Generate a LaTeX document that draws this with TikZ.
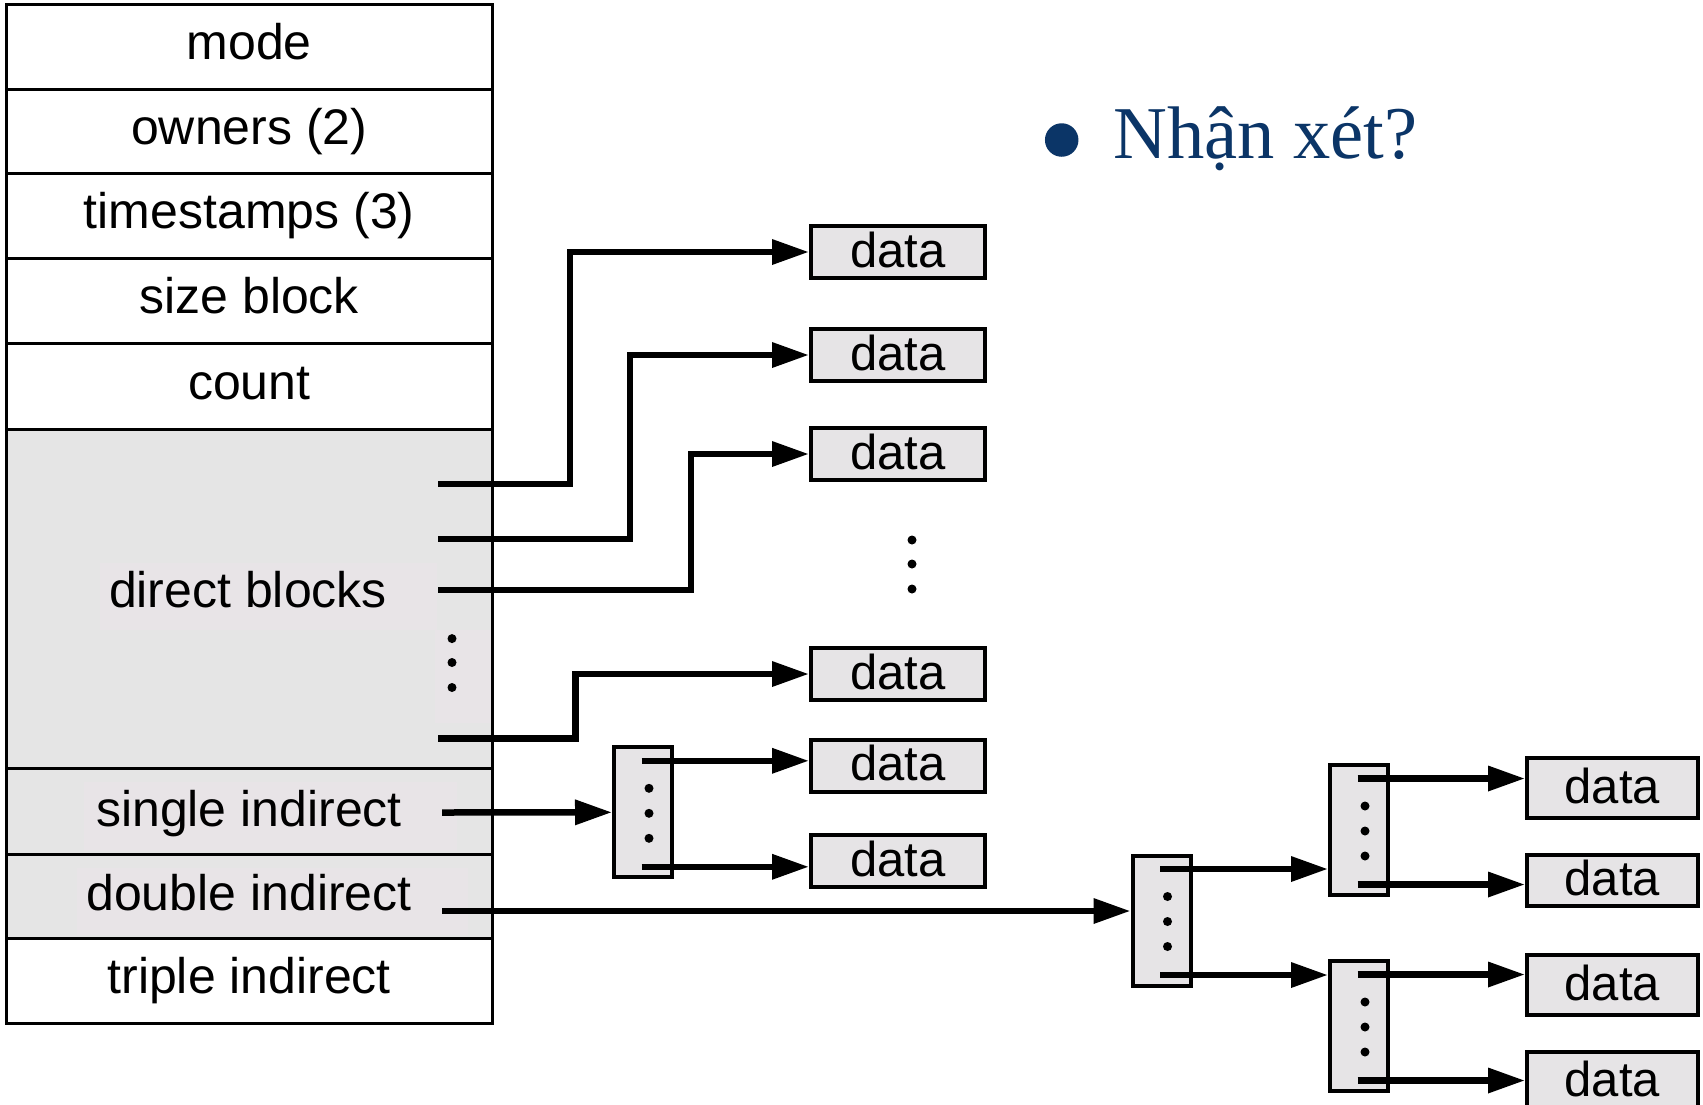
\documentclass[tikz,border=0pt]{standalone}
\usepackage{fontspec}
\newfontfamily\lsans{Liberation Sans}
\newfontfamily\lserif{Liberation Serif}
\usetikzlibrary{arrows.meta,calc}
\definecolor{shade}{HTML}{E5E5E5}
\definecolor{txtshade}{HTML}{E8E4E7}
\definecolor{boxfill}{HTML}{E6E4E6}
\definecolor{navy}{HTML}{0B3567}
\begin{document}
\begin{tikzpicture}[x=1pt,y=-1pt,
  row/.style={draw, line width=3pt, minimum width=485.5pt, inner sep=0pt, outer sep=0pt},
  lbl/.style={font=\lsans\fontsize{50}{58}\selectfont, text height=36pt, text depth=10pt},
  databox/.style={draw, line width=4pt, fill=boxfill, minimum width=174pt, minimum height=52pt,
    inner sep=0pt, font=\lsans\fontsize{49}{58}\selectfont, text height=36pt, text depth=6pt},
  rdatabox/.style={databox, minimum width=170.6pt},
  idx/.style={draw, line width=4pt, fill=boxfill, minimum width=58pt, minimum height=130pt, inner sep=0pt},
  ptr/.style={line width=6.5pt, -{Triangle[length=37pt,width=24pt]}},
  dot/.style={fill=black}
]
\useasboundingbox (0,0) rectangle (1703,1104);
\fill[white] (0,0) rectangle (1703,1104);
\clip (0,0) rectangle (1703,1104);

% inode table
\node[row, minimum height=85pt] (mode) at (249.25,46.5) {};
\node[row, minimum height=84pt] (owners) at (249.25,131) {};
\node[row, minimum height=85pt] (times) at (249.25,215.5) {};
\node[row, minimum height=85pt] (size) at (249.25,300.5) {};
\node[row, minimum height=86pt] (count) at (249.25,386) {};
\node[row, fill=shade, minimum height=339pt] (direct) at (249.25,598.5) {};
\node[row, fill=shade, minimum height=86pt] (single) at (249.25,811) {};
\node[row, fill=shade, minimum height=84pt] (double) at (249.25,896) {};
\node[row, minimum height=85pt] (triple) at (249.25,980.5) {};

% faint label backgrounds
\fill[txtshade] (100,563) rectangle (437,630);
\fill[txtshade] (435,630) rectangle (490.5,723);
\fill[txtshade] (84,782) rectangle (457,851);
\fill[txtshade] (77,868) rectangle (468,935);

\node[lbl] (tmode) at (mode) {mode};
\node[lbl] (towners) at (owners) {owners (2)};
\node[lbl] (ttimes) at (times) {timestamps (3)};
\node[lbl] (tsize) at (size) {size block};
\node[lbl] (tcount) at (count) {count};
\node[lbl] (tdirect) at (248,594) {direct blocks};
\node[lbl] (tsingle) at (249,813) {single indirect};
\node[lbl] (tdouble) at (249,897) {double indirect};
\node[lbl] (ttriple) at (triple) {triple indirect};

\fill[dot] (452,638.6) circle (4.5pt) (452,662.5) circle (4.5pt) (452,687.5) circle (4.5pt);

% data blocks (direct)
\node[databox] (d1) at (898,252) {data};
\node[databox] (d2) at (898,355) {data};
\node[databox] (d3) at (898,454) {data};
\node[databox] (d4) at (898,674) {data};
\node[databox] (d5) at (898,765.5) {data};
\node[databox] (d6) at (898,861) {data};
\fill[dot] (912,540) circle (4.5pt) (912,564) circle (4.5pt) (912,589) circle (4.5pt);

% index blocks
\node[idx] (b1) at (643,812.3) {};
\node[idx] (b2) at (1161.5,920.5) {};
\node[idx] (bA) at (1359,830) {};
\node[idx] (bB) at (1359,1026) {};
\foreach \b in {b1,b2,bA,bB}{
  \fill[dot] ($(\b.north)+(6,43)$) circle (4.5pt) ($(\b.north)+(6,68)$) circle (4.5pt) ($(\b.north)+(6,93)$) circle (4.5pt);
  \coordinate (\b-top) at ($(\b.north)+(-1.5,15.5)$);
  \coordinate (\b-bot) at ($(\b.south)+(-1.5,-12.5)$);
}

% right data blocks
\node[rdatabox, minimum height=60pt] (dA1) at (1612.3,788) {data};
\node[rdatabox, minimum height=51pt] (dA2) at (1612.3,880.5) {data};
\node[rdatabox, minimum height=60pt] (dB1) at (1612.3,985) {data};
\node[rdatabox, minimum height=58pt] (dB2) at (1612.3,1081) {data};

% pointer start points
\coordinate (p1) at (438,484);
\coordinate (p2) at (438,539);
\coordinate (p3) at (438,590);
\coordinate (p4) at (438,738.5);
\coordinate (si) at (442,812.5);
\coordinate (di) at (442,911);

% connectors
\draw[ptr] (p1) -- ++(132,0) |- (d1.west);
\draw[ptr] (p2) -- ++(192,0) |- (d2.west);
\draw[ptr] (p3) -- ++(253,0) |- (d3.west);
\draw[ptr] (p4) -- ++(137.6,0) |- (d4.west);
\draw[ptr] (si) -- (b1.west);
\draw[ptr] (b1-top) -- (b1-top -| d5.west);
\draw[ptr] (b1-bot) -- (b1-bot -| d6.west);
\draw[ptr] (di) -- (di -| b2.west);
\draw[ptr] (b2-top) -- (b2-top -| bA.west);
\draw[ptr] (b2-bot) -- (b2-bot -| bB.west);
\draw[ptr] (bA-top) -- (bA-top -| dA1.west);
\draw[ptr] (bA-bot) -- (bA-bot -| dA2.west);
\draw[ptr] (bB-top) -- (bB-top -| dB1.west);
\draw[ptr] (bB-bot) -- (bB-bot -| dB2.west);

% title
\node[circle, fill=navy, minimum size=33.5pt, inner sep=0pt] (bullet) at (1061.7,140) {};
\node[anchor=base west, inner sep=0pt, font=\lserif\fontsize{74.5}{80}\selectfont, text=navy] (title) at (1113,158) {Nhận xét?};
\end{tikzpicture}
\end{document}
